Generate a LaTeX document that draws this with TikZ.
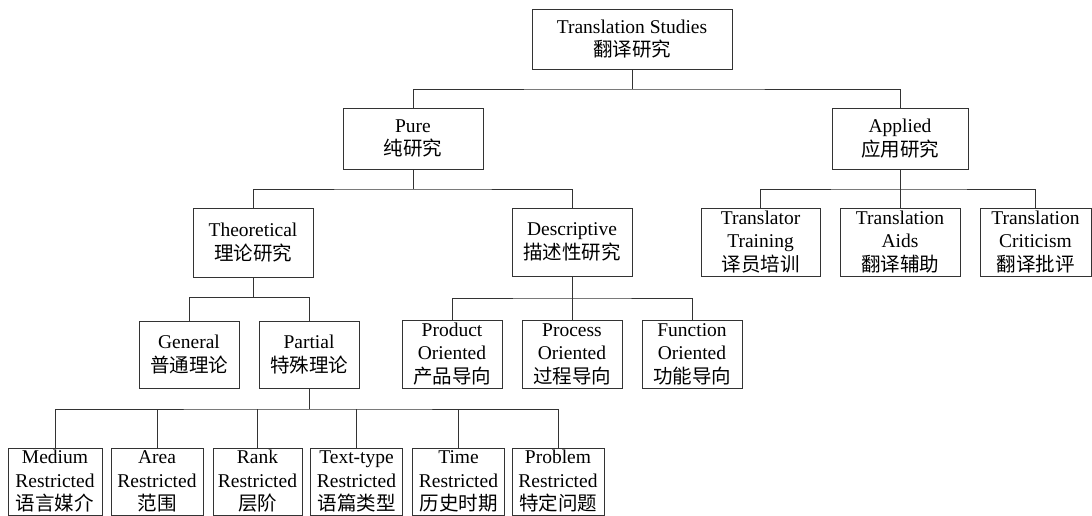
\documentclass[tikz,border=0pt]{standalone}
\usepackage{fontspec}
\setmainfont{Liberation Serif}
\newfontfamily\cjk{Noto Sans CJK SC}
\newcommand\zh[1]{{\cjk\fontsize{19.5}{23.5}\selectfont #1}}
\definecolor{linec}{HTML}{333333}
\begin{document}
\begin{tikzpicture}[x=1pt,y=-1pt,
  box/.style={draw=linec, line width=0.8pt, inner sep=0pt, align=center,
    font=\fontsize{19.5}{23.5}\selectfont, text=black},
  bot/.style={box, minimum width=92pt, minimum height=67pt},
  link/.style={draw=linec, line width=0.8pt}]
\useasboundingbox (0,0) rectangle (1092,516);

% root and first level
\node[box, minimum width=200pt, minimum height=60pt] (top) at (632,39) {Translation Studies\\\zh{翻译研究}};
\node[box, minimum width=140pt, minimum height=61pt] (pure) at (413,138.5) {Pure\\\zh{纯研究}};
\node[box, minimum width=136pt, minimum height=61pt] (applied) at (900,138.5) {Applied\\\zh{应用研究}};

% second level
\node[box, minimum width=120pt, minimum height=69pt] (theo) at (253,242.5) {Theoretical\\\zh{理论研究}};
\node[box, minimum width=120pt, minimum height=68pt] (desc) at (572,242) {Descriptive\\\zh{描述性研究}};
\node[box, minimum width=119pt, minimum height=68pt] (tt) at (760.5,242) {Translator\\Training\\\zh{译员培训}};
\node[box, minimum width=120pt, minimum height=68pt] (aids) at (900,242) {Translation\\Aids\\\zh{翻译辅助}};
\node[box, minimum width=111pt, minimum height=68pt] (crit) at (1035.5,242) {Translation\\Criticism\\\zh{翻译批评}};

% third level
\node[box, minimum width=100pt, minimum height=67pt] (general) at (189,354.5) {General\\\zh{普通理论}};
\node[box, minimum width=100pt, minimum height=67pt] (partial) at (309,354.5) {Partial\\\zh{特殊理论}};
\node[box, minimum width=100pt, minimum height=68pt] (product) at (452,354) {Product\\Oriented\\\zh{产品导向}};
\node[box, minimum width=100pt, minimum height=68pt] (process) at (572,354) {Process\\Oriented\\\zh{过程导向}};
\node[box, minimum width=100pt, minimum height=68pt] (function) at (692,354) {Function\\Oriented\\\zh{功能导向}};

% restricted theories
\node[bot, minimum width=94pt] (medium) at (55,481.5) {Medium\\Restricted\\\zh{语言媒介}};
\node[bot] (area) at (157,481.5) {Area\\Restricted\\\zh{范围}};
\node[bot, minimum width=89pt] (rank) at (257.5,481.5) {Rank\\Restricted\\\zh{层阶}};
\node[bot] (texttype) at (356.5,481.5) {Text-type\\Restricted\\\zh{语篇类型}};
\node[bot] (time) at (458.5,481.5) {Time\\Restricted\\\zh{历史时期}};
\node[bot] (problem) at (558,481.5) {Problem\\Restricted\\\zh{特定问题}};

% bus points
\coordinate (b1) at (632,89);
\coordinate (b2) at (413,189);
\coordinate (b3) at (900,189);
\coordinate (b4) at (253,297.5);
\coordinate (b5) at (572,298);
\coordinate (b6) at (309,409);

% connectors
\draw[link] (top.south) -- (b1);
\draw[link] (pure.north) |- (b1) -| (applied.north);

\draw[link] (pure.south) -- (b2);
\draw[link] (theo.north) |- (b2) -| (desc.north);

\draw[link] (applied.south) -- (aids.north);
\draw[link] (tt.north) |- (b3) -| (crit.north);

\draw[link] (theo.south) -- (b4);
\draw[link] (general.north) |- (b4) -| (partial.north);

\draw[link] (desc.south) -- (process.north);
\draw[link] (product.north) |- (b5) -| (function.north);

\draw[link] (partial.south) -- (b6);
\draw[link] (medium.north) |- (b6) -| (problem.north);
\draw[link] (area.north) -- (area.north |- b6);
\draw[link] (rank.north) -- (rank.north |- b6);
\draw[link] (texttype.north) -- (texttype.north |- b6);
\draw[link] (time.north) -- (time.north |- b6);
\end{tikzpicture}
\end{document}
